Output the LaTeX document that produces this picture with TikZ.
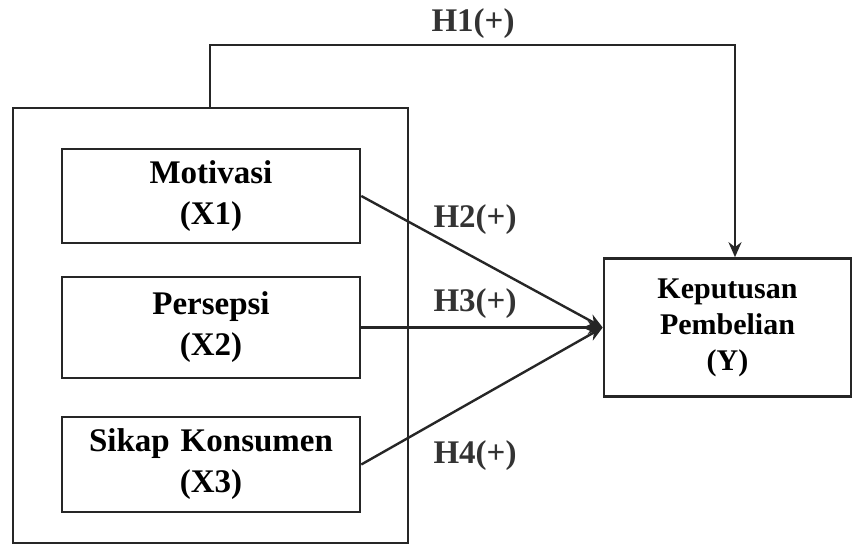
\documentclass[tikz,border=0pt]{standalone}
\usepackage{fontspec}
\setmainfont{Liberation Serif}
\usetikzlibrary{arrows.meta, positioning}

\begin{document}
\begin{tikzpicture}[
  x=1pt, y=-1pt,
  every node/.style={font=\bfseries\fontsize{33}{41}\selectfont},
  var/.style={draw=black!85, line width=2.6pt, minimum width=298pt, text width=290pt, align=center, inner sep=0pt},
  grp/.style={draw=black!85, line width=2.6pt, minimum width=395pt, minimum height=435pt, inner sep=0pt},
  dep/.style={draw=black!85, line width=2.6pt, minimum width=247pt, minimum height=138pt, text width=240pt, align=center, inner sep=0pt, font=\bfseries\fontsize{30}{36}\selectfont},
  arrow/.style={-{Stealth[length=15pt, width=13pt]}, line width=2.4pt, color=black!85},
  lbl/.style={inner sep=1pt, text=black!80}
]
  \useasboundingbox (0,0) rectangle (852,545);

  % Variabel bebas
  \node[grp] (grp) at (210.5,325.5) {};
  \node[var, minimum height=94pt] (mot) at (211,196) {Motivasi\\(X1)};
  \node[var, minimum height=101pt] (per) at (211,327.5) {Persepsi\\(X2)};
  \node[var, minimum height=95pt] (sik) at (211,464.5) {Sikap Konsumen\\(X3)};

  % Variabel terikat
  \node[dep] (kep) at (727.5,327.5) {\raisebox{-5pt}{\parbox{240pt}{\centering Keputusan\\Pembelian\\(Y)}}};

  \coordinate (h1a) at (210,45);
  \coordinate (h1b) at (735,45);

  \draw[arrow] (grp.north -| h1a) -- (h1a) -- (h1b) -- (kep.north -| h1b);
  \draw[arrow] (mot.east) -- (kep.west);
  \draw[arrow] (per.east) -- (kep.west);
  \draw[arrow] (sik.east) -- (kep.west);

  \node[lbl] (l1) at (473,24) {H1(+)};
  \node[lbl] (l2) at (475,220) {H2(+)};
  \node[lbl] (l3) at (475,304) {H3(+)};
  \node[lbl] (l4) at (475,456) {H4(+)};
\end{tikzpicture}
\end{document}
